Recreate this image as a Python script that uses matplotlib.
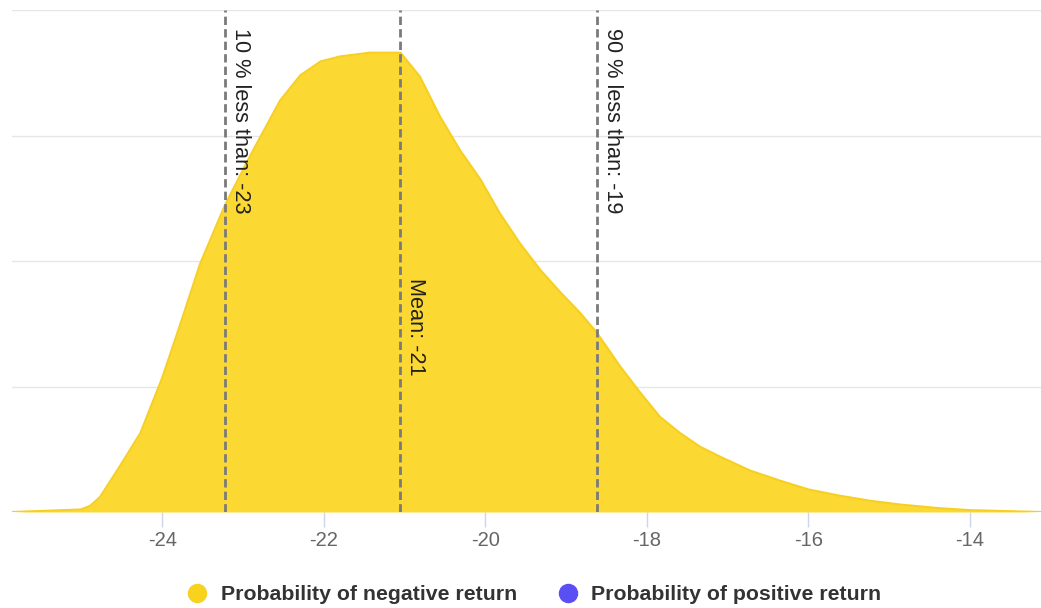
import matplotlib
matplotlib.use("Agg")
import matplotlib.pyplot as plt
from matplotlib.lines import Line2D

# ---- data ----
returns = [-25.86, -25.01, -24.89, -24.77, -24.52, -24.27, -24.00, -23.78, -23.53,
           -23.22, -22.91, -22.54, -22.29, -22.04, -21.80, -21.43, -21.05, -20.81,
           -20.56, -20.31, -20.06, -19.82, -19.57, -19.32, -19.07, -18.83, -18.62,
           -18.33, -18.08, -17.84, -17.59, -17.34, -17.09, -16.72, -16.35, -16.00,
           -15.61, -15.24, -14.87, -14.37, -14.00, -13.12]
density = [0.00, 0.02, 0.05, 0.12, 0.37, 0.63, 1.07, 1.49, 1.98,
           2.45, 2.84, 3.28, 3.48, 3.59, 3.63, 3.66, 3.66, 3.47,
           3.15, 2.88, 2.65, 2.38, 2.14, 1.93, 1.75, 1.59, 1.43,
           1.16, 0.95, 0.76, 0.63, 0.52, 0.44, 0.33, 0.25, 0.18,
           0.13, 0.09, 0.06, 0.03, 0.015, 0.00]

marker_values = [-23.22, -21.05, -18.62]
marker_labels = ["10 % less than: -23", "Mean: -21", "90 % less than: -19"]
marker_label_y = [3.86, 1.865, 3.86]

x_ticks = [-24, -22, -20, -18, -16, -14]
x_tick_labels = ["-24", "-22", "-20", "-18", "-16", "-14"]
y_grid = [0, 1, 2, 3, 4]

legend_labels = ["Probability of negative return", "Probability of positive return"]
legend_colors = ["#F9D21E", "#5A4FF3"]

# ---- figure ----
plt.rcParams['font.family'] = ['Liberation Sans', 'DejaVu Sans']
W, H = 1041, 608
fig = plt.figure(figsize=(W / 100, H / 100), dpi=100)
ax = fig.add_axes([12 / W, (H - 512) / H, 1 - 12 / W, (512 - 10) / H])

ax.fill_between(returns, density, 0, color="#FCD833", linewidth=0, zorder=2)
ax.plot(returns, density, color="#F7CF22", linewidth=1.5, zorder=3)

ax.set_xlim(returns[0], returns[-1])
ax.set_ylim(0, 4)

for g in y_grid[1:]:
    ax.axhline(g, color="#e6e6e6", linewidth=1, zorder=1)
ax.axhline(0, color="#ccd6eb", linewidth=1, zorder=1)

for xv, lab, ly in zip(marker_values, marker_labels, marker_label_y):
    ax.axvline(xv, ymin=0, ymax=1, color="#7a7a7a", linewidth=2,
               linestyle=(0, (3, 1.5)), zorder=4)
    ax.annotate(lab, xy=(xv, ly), xycoords="data", xytext=(5, 0),
                textcoords="offset pixels", rotation=-90, ha="left", va="top",
                fontsize=15.7, color="#222222", zorder=5)

ax.set_xticks(x_ticks)
ax.set_xticklabels(x_tick_labels)
ax.set_yticks([])
ax.tick_params(axis="x", length=11, width=1, color="#ccd6eb", labelcolor="#666666",
               labelsize=14.5, pad=3)
for s in ax.spines.values():
    s.set_visible(False)

handles = [Line2D([], [], linestyle="none", marker="o", markersize=13,
                  markerfacecolor=c, markeredgecolor=c) for c in legend_colors]
leg = fig.legend(handles, legend_labels, loc="center", ncol=2,
                 bbox_to_anchor=(534 / W, (H - 595) / H), frameon=False,
                 handlelength=1.0, handletextpad=0.6, columnspacing=1.9,
                 borderpad=0, borderaxespad=0,
                 prop={"weight": "bold", "size": 15.3})
for t in leg.get_texts():
    t.set_color("#333333")

fig.savefig("out.png", dpi=100)
